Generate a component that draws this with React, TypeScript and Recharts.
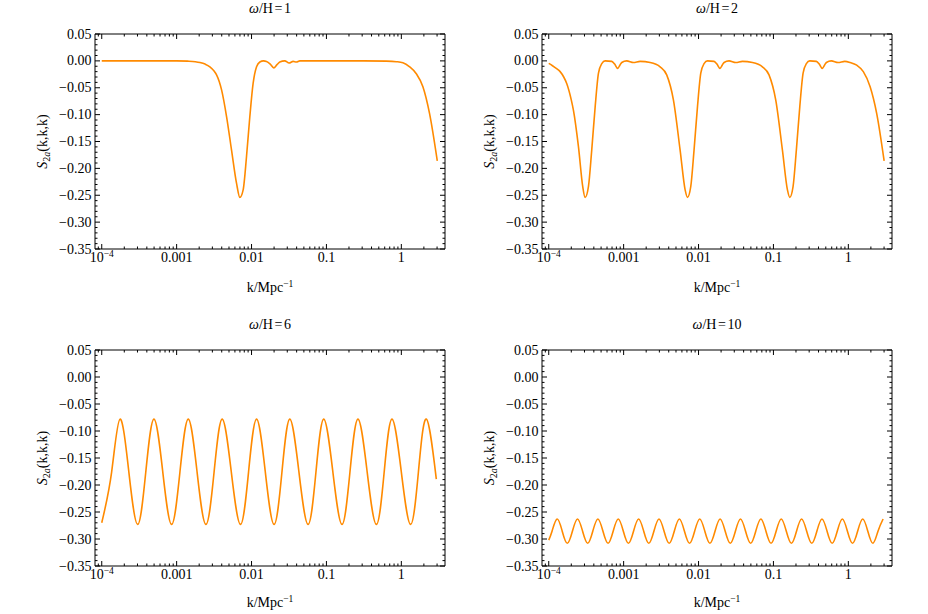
import React from 'react';
import { LineChart, Line, XAxis, YAxis } from 'recharts';

const FONT = "'Liberation Serif', 'Times New Roman', serif";
const ORANGE = '#ff8a00';

// x values are log10(k / Mpc^-1), y values are S_2a(k,k,k)
const logK1 = [-4.0, -3.5, -3.0, -2.85, -2.75, -2.689, -2.62, -2.556, -2.5, -2.467, -2.4, -2.333, -2.267, -2.2, -2.156, -2.112, -2.067, -2.023, -1.979, -1.933, -1.889, -1.84, -1.8, -1.75, -1.703, -1.66, -1.623, -1.556, -1.499, -1.445, -1.4, -1.356, -1.2, -0.5, -0.2, -0.067, 0.021, 0.111, 0.2, 0.288, 0.377, 0.48];
const s1 = [0.0, 0.0, 0.0, -0.0005, -0.0015, -0.003, -0.006, -0.011, -0.019, -0.026, -0.054, -0.104, -0.166, -0.228, -0.254, -0.24, -0.178, -0.104, -0.042, -0.011, -0.002, 0.0, -0.001, -0.006, -0.013, -0.007, -0.002, 0.0, -0.004, -0.001, -0.002, 0.0, 0.0, 0.0, -0.0005, -0.0015, -0.0034, -0.011, -0.024, -0.048, -0.098, -0.186];

const logK2 = [-4.0, -3.95, -3.9, -3.848, -3.8, -3.76, -3.7, -3.67, -3.603, -3.546, -3.514, -3.47, -3.426, -3.38, -3.336, -3.292, -3.247, -3.159, -3.12, -3.079, -3.05, -3.025, -2.959, -2.869, -2.78, -2.646, -2.513, -2.425, -2.335, -2.246, -2.179, -2.148, -2.104, -2.06, -2.014, -1.97, -1.926, -1.881, -1.793, -1.754, -1.713, -1.684, -1.659, -1.593, -1.503, -1.414, -1.28, -1.147, -1.059, -0.969, -0.88, -0.813, -0.782, -0.738, -0.694, -0.648, -0.604, -0.56, -0.515, -0.427, -0.388, -0.347, -0.318, -0.293, -0.227, -0.137, -0.048, 0.024, 0.112, 0.2, 0.291, 0.379, 0.478];
const s2 = [-0.0046, -0.009, -0.014, -0.02, -0.03, -0.042, -0.072, -0.092, -0.16, -0.234, -0.254, -0.234, -0.166, -0.085, -0.023, -0.005, 0.0, -0.001, -0.006, -0.014, -0.008, -0.003, 0.0, -0.003, -0.001, -0.003, -0.011, -0.026, -0.073, -0.166, -0.24, -0.254, -0.234, -0.166, -0.085, -0.023, -0.005, 0.0, -0.001, -0.006, -0.014, -0.008, -0.003, 0.0, -0.003, -0.001, -0.003, -0.011, -0.026, -0.073, -0.166, -0.24, -0.254, -0.234, -0.166, -0.085, -0.023, -0.005, 0.0, -0.001, -0.006, -0.014, -0.008, -0.003, 0.0, -0.003, -0.001, -0.003, -0.008, -0.02, -0.048, -0.098, -0.186];

const logK3 = [-4.0, -3.868, -3.756, -3.638, -3.52, -3.412, -3.303, -3.185, -3.067, -2.956, -2.845, -2.727, -2.609, -2.5, -2.392, -2.27, -2.147, -2.04, -1.933, -1.816, -1.699, -1.594, -1.489, -1.367, -1.245, -1.14, -1.036, -0.914, -0.792, -0.686, -0.579, -0.456, -0.333, -0.229, -0.125, 0.0, 0.124, 0.228, 0.333, 0.467];
const s3 = [-0.27, -0.176, -0.078, -0.176, -0.273, -0.176, -0.078, -0.176, -0.273, -0.176, -0.078, -0.176, -0.273, -0.176, -0.078, -0.176, -0.273, -0.176, -0.078, -0.176, -0.273, -0.176, -0.078, -0.176, -0.273, -0.176, -0.078, -0.176, -0.273, -0.176, -0.078, -0.176, -0.273, -0.176, -0.078, -0.176, -0.273, -0.176, -0.078, -0.189];

const logK4 = [-4.0, -3.956, -3.888, -3.82, -3.752, -3.684, -3.616, -3.548, -3.48, -3.412, -3.344, -3.276, -3.208, -3.14, -3.072, -3.004, -2.936, -2.868, -2.8, -2.732, -2.664, -2.596, -2.528, -2.46, -2.392, -2.324, -2.256, -2.188, -2.12, -2.052, -1.984, -1.916, -1.848, -1.78, -1.712, -1.644, -1.576, -1.508, -1.44, -1.372, -1.304, -1.236, -1.168, -1.1, -1.032, -0.964, -0.896, -0.828, -0.76, -0.692, -0.624, -0.556, -0.488, -0.42, -0.352, -0.284, -0.216, -0.148, -0.08, -0.012, 0.056, 0.124, 0.192, 0.26, 0.328, 0.396, 0.464];
const s4 = [-0.302, -0.2855, -0.263, -0.2855, -0.308, -0.2855, -0.263, -0.2855, -0.308, -0.2855, -0.263, -0.2855, -0.308, -0.2855, -0.263, -0.2855, -0.308, -0.2855, -0.263, -0.2855, -0.308, -0.2855, -0.263, -0.2855, -0.308, -0.2855, -0.263, -0.2855, -0.308, -0.2855, -0.263, -0.2855, -0.308, -0.2855, -0.263, -0.2855, -0.308, -0.2855, -0.263, -0.2855, -0.308, -0.2855, -0.263, -0.2855, -0.308, -0.2855, -0.263, -0.2855, -0.308, -0.2855, -0.263, -0.2855, -0.308, -0.2855, -0.263, -0.2855, -0.308, -0.2855, -0.263, -0.2855, -0.308, -0.2855, -0.263, -0.2855, -0.308, -0.2855, -0.263];

const omegas = ['1', '2', '6', '10'];

const xMajor = [-4, -3, -2, -1, 0];
const xMajorLabels = ['10^-4', '0.001', '0.01', '0.1', '1'];
const yMajor = [0.05, 0.0, -0.05, -0.1, -0.15, -0.2, -0.25, -0.3, -0.35];

const X_DOMAIN: [number, number] = [-4.09, 0.583];
const Y_DOMAIN: [number, number] = [-0.35, 0.05];

// minor ticks: log10 of 2..9 in each decade, and every 0.01 on y
const xMinor: number[] = [];
for (let n = -5; n <= 0; n++) {
  for (let m = 2; m <= 9; m++) {
    const v = n + Math.log10(m);
    if (v > X_DOMAIN[0] && v < X_DOMAIN[1]) xMinor.push(v);
  }
}
const xTicks = [...xMajor, ...xMinor].sort((a, b) => a - b);
const yMinor: number[] = [];
for (let i = -35; i <= 5; i++) {
  if (i % 5 !== 0) yMinor.push(i / 100);
}
const yTicks = [...yMajor, ...yMinor].sort((a, b) => a - b);

const MAJOR_LEN = 5;
const MINOR_LEN = 2.5;

const isMajorX = (v: number) => Math.abs(v - Math.round(v)) < 1e-6;
const isMajorY = (v: number) => Math.abs(v * 20 - Math.round(v * 20)) < 1e-6;

function xLabel(v: number, x: number, y: number) {
  const idx = xMajor.indexOf(Math.round(v));
  const text = xMajorLabels[idx];
  if (text === '10^-4') {
    return (
      <text x={x} y={y + 12.5} textAnchor="middle" fontSize={14} fontFamily={FONT} fill="#000">
        10<tspan dy={-5} fontSize={9.5}>−4</tspan>
      </text>
    );
  }
  return (
    <text x={x} y={y + 12.5} textAnchor="middle" fontSize={14} fontFamily={FONT} fill="#000">
      {text}
    </text>
  );
}

function yLabel(v: number) {
  const r = Math.round(v * 100) / 100;
  if (r < 0) return '−' + Math.abs(r).toFixed(2);
  return r.toFixed(2);
}

// ticks point inward; (x, y) arrive on the frame line since tickSize and tickMargin are 0
function FrameTick(props: any) {
  const { x, y, payload, side } = props;
  const v = payload.value;
  if (side === 'bottom' || side === 'top') {
    const major = isMajorX(v);
    const len = major ? MAJOR_LEN : MINOR_LEN;
    const y2 = side === 'bottom' ? y - len : y + len;
    return (
      <g>
        <line x1={x} x2={x} y1={y} y2={y2} stroke="#000" strokeWidth={1} />
        {side === 'bottom' && major && xLabel(v, x, y)}
      </g>
    );
  }
  const major = isMajorY(v);
  const len = major ? MAJOR_LEN : MINOR_LEN;
  const x2 = side === 'left' ? x + len : x - len;
  return (
    <g>
      <line x1={x} x2={x2} y1={y} y2={y} stroke="#000" strokeWidth={1} />
      {side === 'left' && major && (
        <text x={x - 3.5} y={y + 4.5} textAnchor="end" fontSize={14} fontFamily={FONT} fill="#000">
          {yLabel(v)}
        </text>
      )}
    </g>
  );
}

interface PanelProps {
  logK: number[];
  values: number[];
  omega: string;
  left: number;
  top: number;
  frame: { top: number; right: number; bottom: number; left: number };
  curve: 'monotone' | 'natural';
  xLabelY: number;
}

const W = 464;
const H = 307;
const AX = 2; // thickness reserved for each axis

function Panel({ logK, values, omega, left, top, frame, curve, xLabelY }: PanelProps) {
  const data = logK.map((x, i) => ({ x, y: values[i] }));
  const margin = {
    top: frame.top - AX,
    bottom: frame.bottom - AX,
    left: frame.left - AX,
    right: frame.right - AX,
  };
  const plotW = W - frame.left - frame.right;
  const plotH = H - frame.top - frame.bottom;
  const cx = frame.left + plotW / 2;
  const cy = frame.top + plotH / 2;
  const ylx = frame.left - 53;
  const axisLine = { stroke: '#000', strokeWidth: 1 };

  return (
    <div style={{ position: 'absolute', left, top, width: W, height: H }}>
      <LineChart width={W} height={H} data={data} margin={margin}>
        <XAxis dataKey="x" type="number" domain={X_DOMAIN} allowDataOverflow ticks={xTicks} interval={0}
          height={AX} tickSize={0} tickMargin={0} tickLine={false} axisLine={axisLine}
          tick={<FrameTick side="bottom" />} />
        <XAxis xAxisId="top" orientation="top" dataKey="x" type="number" domain={X_DOMAIN} allowDataOverflow
          ticks={xTicks} interval={0} height={AX} tickSize={0} tickMargin={0} tickLine={false}
          axisLine={axisLine} tick={<FrameTick side="top" />} />
        <YAxis type="number" domain={Y_DOMAIN} allowDataOverflow ticks={yTicks} interval={0}
          width={AX} tickSize={0} tickMargin={0} tickLine={false} axisLine={axisLine}
          tick={<FrameTick side="left" />} />
        <YAxis yAxisId="right" orientation="right" type="number" domain={Y_DOMAIN} allowDataOverflow
          ticks={yTicks} interval={0} width={AX} tickSize={0} tickMargin={0} tickLine={false}
          axisLine={axisLine} tick={<FrameTick side="right" />} />
        <Line type={curve} dataKey="y" stroke={ORANGE} strokeWidth={1.6} dot={false}
          isAnimationActive={false} />
      </LineChart>
      <svg width={W} height={H} style={{ position: 'absolute', left: 0, top: 0, pointerEvents: 'none' }}
        fontFamily={FONT} fill="#000">
        <text x={cx} y={frame.top - 21} textAnchor="middle" fontSize={14}>
          <tspan fontStyle="italic">ω</tspan>/H<tspan dx={1.5}>=</tspan><tspan dx={1.5}>{omega}</tspan>
        </text>
        <text x={cx} y={xLabelY} textAnchor="middle" fontSize={14}>
          k/Mpc<tspan dy={-5} fontSize={9.5}>−1</tspan>
        </text>
        <text x={ylx} y={cy} textAnchor="middle" dominantBaseline="central" fontSize={14}
          transform={`rotate(-90 ${ylx} ${cy})`}>
          <tspan fontStyle="italic">S</tspan>
          <tspan dy={3.5} fontSize={10}>2</tspan>
          <tspan fontSize={10} fontStyle="italic">a</tspan>
          <tspan dy={-3.5}>(k,k,k)</tspan>
        </text>
      </svg>
    </div>
  );
}

export default function App() {
  return (
    <div style={{ position: 'absolute', left: 0, top: 0, width: 928, height: 614, background: '#fff' }}>
      <Panel logK={logK1} values={s1} omega={omegas[0]} left={0} top={0}
        frame={{ top: 34, right: 19, bottom: 58, left: 95 }} curve="monotone" xLabelY={292} />
      <Panel logK={logK2} values={s2} omega={omegas[1]} left={464} top={0}
        frame={{ top: 34, right: 36, bottom: 58, left: 78 }} curve="monotone" xLabelY={292} />
      <Panel logK={logK3} values={s3} omega={omegas[2]} left={0} top={307}
        frame={{ top: 43, right: 19, bottom: 48, left: 95 }} curve="natural" xLabelY={300} />
      <Panel logK={logK4} values={s4} omega={omegas[3]} left={464} top={307}
        frame={{ top: 43, right: 36, bottom: 48, left: 78 }} curve="natural" xLabelY={300} />
    </div>
  );
}
